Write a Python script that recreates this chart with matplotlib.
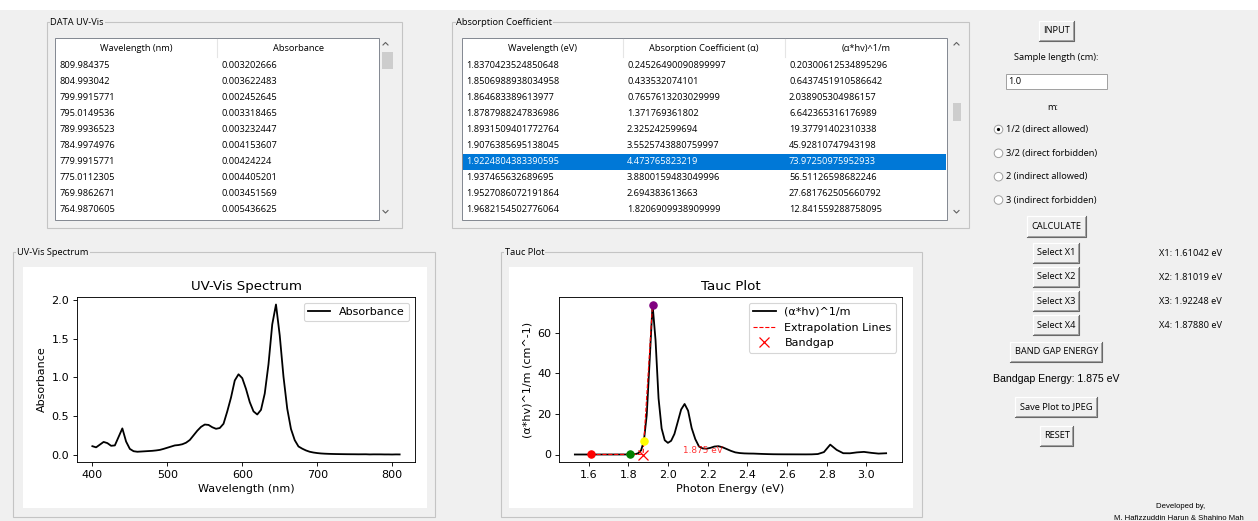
import numpy as np
import matplotlib
matplotlib.use("Agg")
import matplotlib.pyplot as plt
from matplotlib.patches import Rectangle, Circle

# ---- data ---------------------------------------------------------------
# UV-Vis data as loaded (descending wavelength)
wavelength_nm = [809.984375, 804.993042, 799.9915771, 795.0149536, 789.9936523,
                 784.9974976, 779.9915771, 775.0112305, 769.9862671, 764.9870605,
                 760, 755, 750, 745, 740, 735, 730, 725, 720, 715,
                 710, 705, 700, 695, 690, 685, 680, 675, 670, 665,
                 660, 655, 650, 645, 640, 635, 630, 625, 620, 615,
                 610, 605, 600, 595, 590, 585, 580, 575, 570, 565,
                 560, 555, 550, 545, 540, 535, 530, 525, 520, 515,
                 510, 505, 500, 495, 490, 485, 480, 475, 470, 465,
                 460, 455, 450, 445, 440, 435, 430, 425, 420, 415,
                 410, 405, 400]
absorbance = [0.003202666, 0.003622483, 0.002452645, 0.003318465, 0.003232447,
              0.004153607, 0.00424224, 0.004405201, 0.003451569, 0.005436625,
              0.0052, 0.0049, 0.0055, 0.0058, 0.0062, 0.0068, 0.0075, 0.0083, 0.0095, 0.011,
              0.013, 0.016, 0.021, 0.028, 0.038, 0.055, 0.078, 0.1065, 0.18825, 0.33251,
              0.59564, 1.00966, 1.54259, 1.94259, 1.68477, 1.16995, 0.79058, 0.58, 0.52, 0.56,
              0.68, 0.85, 0.99, 1.04, 0.96, 0.74, 0.56, 0.40, 0.345, 0.335,
              0.355, 0.385, 0.39, 0.36, 0.31, 0.25, 0.19, 0.155, 0.135, 0.125,
              0.12, 0.105, 0.09, 0.075, 0.062, 0.055, 0.05, 0.047, 0.044, 0.041,
              0.038, 0.045, 0.075, 0.17, 0.34, 0.23, 0.12, 0.115, 0.15, 0.165,
              0.13, 0.095, 0.11]

sample_length = 1.0
m_value = 0.5

# rows visible in the "Absorption Coefficient" table
energy_rows = ["1.8370423524850648", "1.8506988938034958", "1.864683389613977",
               "1.8787988247836986", "1.8931509401772764", "1.9076385695138045",
               "1.9224804383390595", "1.937465632689695", "1.9527086072191864",
               "1.9682154502776064"]
alpha_rows = ["0.24526490090899997", "0.433532074101", "0.7657613203029999",
              "1.371769361802", "2.325242599694", "3.5525743880759997",
              "4.473765823219", "3.8800159483049996", "2.694383613663",
              "1.8206909938909999"]
tauc_rows = ["0.20300612534895296", "0.6437451910586642", "2.038905304986157",
             "6.642365316176989", "19.37791402310338", "45.92810747943198",
             "73.97250975952933", "56.51126598682246", "27.681762505660792",
             "12.841559288758095"]
selected_row = 6

# points picked on the Tauc plot
select_names = ["X1", "X2", "X3", "X4"]
select_x = [1.61042, 1.81019, 1.92248, 1.87880]
select_colors = ["red", "green", "purple", "yellow"]
bandgap = 1.875

radio_labels = ["1/2 (direct allowed)", "3/2 (direct forbidden)",
                "2 (indirect allowed)", "3 (indirect forbidden)"]

# ---- derived Tauc data ----------------------------------------------------
wl = np.array(wavelength_nm)
A = np.array(absorbance)
energy = 1240.0 / wl
alpha = 2.303 * A / sample_length
tauc = (alpha * energy) ** (1 / m_value)
order = np.argsort(energy)
select_y = np.interp(select_x, energy[order], tauc[order])

# ---- style ----------------------------------------------------------------
plt.rcParams.update({
    "font.size": 8,
    "axes.titlesize": 9.6,
    "axes.labelsize": 8,
    "xtick.labelsize": 8,
    "ytick.labelsize": 8,
    "legend.fontsize": 8,
    "axes.linewidth": 0.64,
    "xtick.major.size": 2.8,
    "ytick.major.size": 2.8,
    "xtick.major.width": 0.64,
    "ytick.major.width": 0.64,
    "xtick.major.pad": 2.8,
    "ytick.major.pad": 2.8,
    "axes.labelpad": 3.2,
    "axes.titlepad": 4.8,
    "lines.linewidth": 1.3,
    "patch.linewidth": 0.8,
})

W, H = 1258, 521
BG = "#f0f0f0"
GUI = "Open Sans"
FS = 6.7

fig = plt.figure(figsize=(W / 100, H / 100), dpi=100, facecolor=BG)
ui = fig.add_axes([0, 0, 1, 1], zorder=0)
ui.set_xlim(0, W)
ui.set_ylim(H, 0)
ui.axis("off")
ui.add_patch(Rectangle((0, 0), W, 9.5, color="white", lw=0))


def gtext(x, y, s, ha="left", color="black", size=FS, family=GUI, **kw):
    ui.text(x, y, s, ha=ha, va="center", color=color, fontsize=size,
            family=family, **kw)


def frame(x0, y0, x1, y1, title, tx):
    ui.add_patch(Rectangle((x0, y0), x1 - x0, y1 - y0, fill=False,
                           ec="#c4c4c4", lw=0.8))
    gtext(tx, y0, title, bbox=dict(fc=BG, ec="none", pad=0.6))


def button(x0, y0, x1, y1, label):
    ui.add_patch(Rectangle((x0, y0), x1 - x0, y1 - y0, fc=BG, ec="none"))
    ui.plot([x0, x0, x1], [y1, y0, y0], color="white", lw=0.9)
    ui.plot([x0, x1, x1], [y1, y1, y0], color="#696969", lw=0.8)
    ui.plot([x0 + 1, x1 - 1, x1 - 1], [y1 - 1, y1 - 1, y0 + 1], color="#a0a0a0", lw=0.7)
    gtext((x0 + x1) / 2, (y0 + y1) / 2, label, ha="center")


def scrollbar(cx, thumb_x0, thumb_x1, thumb_y0, thumb_y1):
    ui.plot([cx - 2.5, cx, cx + 2.5], [45, 42.5, 45], color="#606060", lw=0.8)
    ui.plot([cx - 2.5, cx, cx + 2.5], [210.5, 213, 210.5], color="#606060", lw=0.8)
    ui.add_patch(Rectangle((thumb_x0, thumb_y0), thumb_x1 - thumb_x0,
                           thumb_y1 - thumb_y0, fc="#cdcdcd", ec="none"))


def tree(x0, x1, col_edges, headers, columns, selected=None):
    y0, y1 = 37.7, 219.5
    ui.add_patch(Rectangle((x0, y0), x1 - x0, y1 - y0, fc="white", ec="#828790", lw=0.7))
    for e in col_edges[1:-1]:
        ui.plot([e, e], [y0 + 1, 57], color="#e5e5e5", lw=0.8)
    for i, h in enumerate(headers):
        gtext((col_edges[i] + col_edges[i + 1]) / 2, 48.3, h, ha="center")
    for r in range(len(columns[0])):
        yc = 66 + 16 * r
        color = "black"
        if r == selected:
            ui.add_patch(Rectangle((x0 + 1, yc - 8), x1 - x0 - 2, 16, fc="#0078d7", ec="none"))
            color = "white"
        for c, col in enumerate(columns):
            gtext(col_edges[c] + 4, yc, col[r], color=color)


# DATA UV-Vis table
frame(46.7, 22.3, 401.7, 228.3, "DATA UV-Vis", 50.5)
tree(55.3, 379.3, [55.3, 217.3, 379.3], ["Wavelength (nm)", "Absorbance"],
     [[str(v) for v in wavelength_nm[:10]], [str(v) for v in absorbance[:10]]])
scrollbar(385.5, 381.5, 392.7, 51.7, 69.3)

# Absorption coefficient table
frame(452, 22.3, 969.3, 228.3, "Absorption Coefficient", 456.5)
tree(461.7, 946.7, [461.7, 623, 785, 946.7],
     ["Wavelength (eV)", "Absorption Coefficient (α)", "(α*hv)^1/m"],
     [energy_rows, alpha_rows, tauc_rows], selected=selected_row)
scrollbar(956.5, 952.8, 960.7, 102.7, 120.7)

# right-hand controls
button(1039, 20.7, 1074.3, 40.7, "INPUT")
gtext(1055.7, 57.3, "Sample length (cm):", ha="center")
ui.add_patch(Rectangle((1005.7, 74), 101, 15.3, fc="white", ec="#a0a0a0", lw=0.7))
gtext(1008, 81.6, str(sample_length))
gtext(1053, 107.3, "m:", ha="center")
for i, lab in enumerate(radio_labels):
    cy = [129.5, 153.3, 176.7, 200][i]
    ui.add_patch(Circle((998.5, cy), 4.3, fc="white", ec="#a0a0a0", lw=0.7))
    if i == 0:
        ui.add_patch(Circle((998.5, cy), 1.6, fc="black", ec="none"))
    gtext(1006, cy, lab)
button(1026.7, 216, 1085.7, 237.3, "CALCULATE")
for i, name in enumerate(select_names):
    y0 = 242.7 + 24.2 * i
    button(1033.3, y0, 1079.3, y0 + 20, "Select " + name)
    gtext(1159, y0 + 10.3, f"{name}: {select_x[i]:.5f} eV")
button(1010, 341.7, 1102.3, 362.3, "BAND GAP ENERGY")
gtext(1056, 379.5, f"Bandgap Energy: {bandgap:.3f} eV", ha="center",
      size=7.6, family="Liberation Sans")
button(1015.3, 396.7, 1096.7, 416.7, "Save Plot to JPEG")
button(1040, 426, 1073.3, 446, "RESET")
gtext(1181, 506.5, "Developed by,", ha="center", size=5.6, family="Liberation Sans")
gtext(1114, 518.5, "M. Hafizzuddin Harun & Shahino Mah", size=5.6,
      family="Liberation Sans")

# plot frames and canvases
frame(13.3, 252.3, 435, 517.3, "UV-Vis Spectrum", 17.3)
frame(500.7, 252.3, 921.7, 516.7, "Tauc Plot", 505)
ui.add_patch(Rectangle((23, 267), 404, 241.3, fc="white", ec="none"))
ui.add_patch(Rectangle((509.3, 266.7), 403.4, 241.6, fc="white", ec="none"))

# ---- UV-Vis spectrum ------------------------------------------------------
ax1 = fig.add_axes([77 / W, 1 - 462 / H, 338 / W, 165 / H], zorder=2)
ax1.plot(wavelength_nm, absorbance, color="black", label="Absorbance")
ax1.set_title("UV-Vis Spectrum")
ax1.set_xlabel("Wavelength (nm)")
ax1.set_ylabel("Absorbance")
ax1.legend(loc="upper right")

# ---- Tauc plot ------------------------------------------------------------
ax2 = fig.add_axes([559.3 / W, 1 - 462 / H, 342.4 / W, 165 / H], zorder=2)
ax2.plot(energy, tauc, "k-", label="(α*hv)^1/m")
fit1 = np.polyfit(select_x[:2], select_y[:2], 1)
fit2 = np.polyfit([select_x[3], select_x[2]], [select_y[3], select_y[2]], 1)
x_l1 = np.array([select_x[0], bandgap])
x_l2 = np.array([bandgap, select_x[2]])
ax2.plot(x_l1, np.polyval(fit1, x_l1), "r--", lw=0.8, label="Extrapolation Lines")
ax2.plot(x_l2, np.polyval(fit2, x_l2), "r--", lw=0.8)
ax2.plot(bandgap, 0, "rx", markersize=6.5, mew=0.9, label="Bandgap")
for xs, ys, c in zip(select_x, select_y, select_colors):
    ax2.scatter(xs, ys, color=c, s=28, zorder=3)
ax2.text(bandgap + 0.2, 0.6, f"{bandgap:.3f} eV", color="red", fontsize=6.4, alpha=0.8)
ax2.set_title("Tauc Plot")
ax2.set_xlabel("Photon Energy (eV)")
ax2.set_ylabel("(α*hv)^1/m (cm^-1)")
ax2.legend(loc="upper right")

fig.savefig("out.png", dpi=100, facecolor=BG)
